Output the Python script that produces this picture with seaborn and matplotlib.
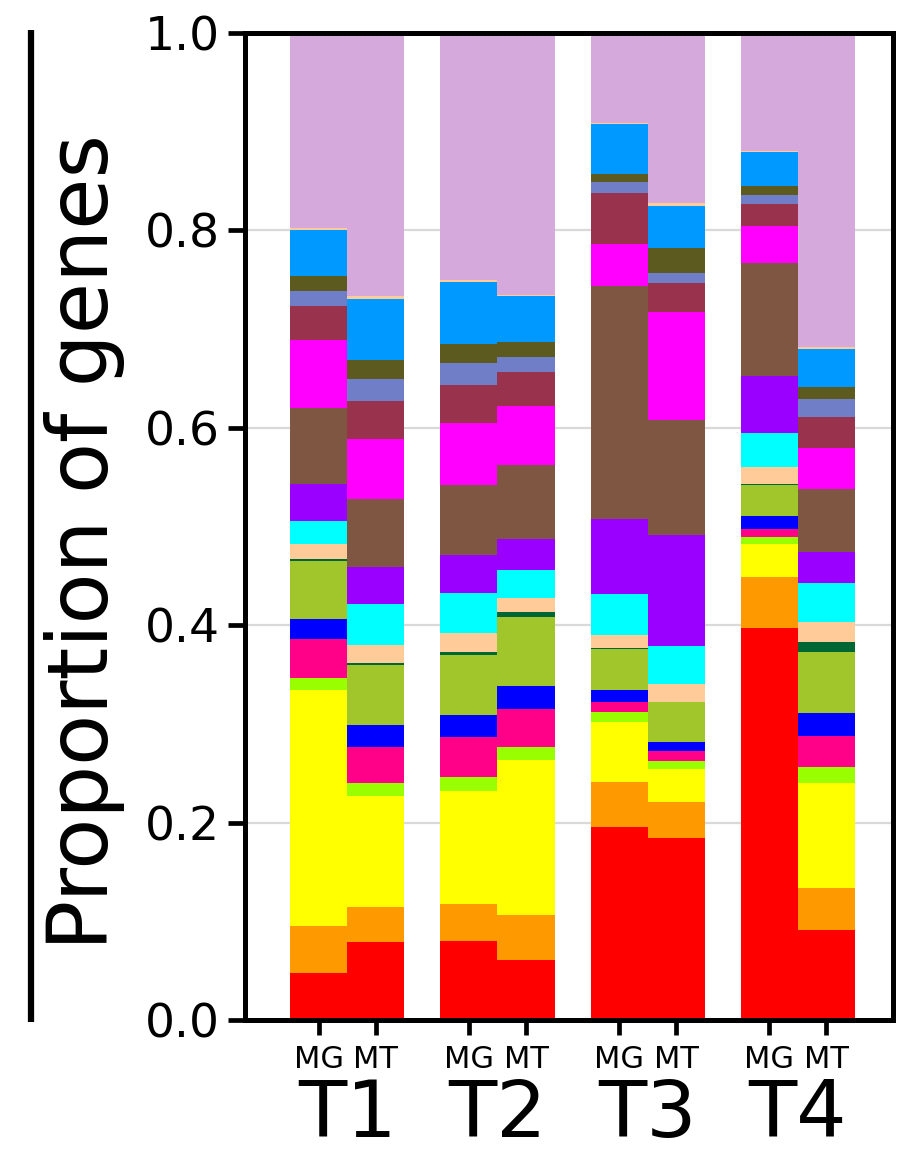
import matplotlib
matplotlib.use("Agg")
import matplotlib.pyplot as plt
from matplotlib.lines import Line2D
import matplotlib.transforms as mtransforms
import numpy as np
import pandas as pd
import seaborn as sns

groups = ["T1", "T2", "T3", "T4"]
types = ["MG", "MT"]

# bars in order T1 MG, T1 MT, T2 MG, T2 MT, T3 MG, T3 MT, T4 MG, T4 MT
# layers listed bottom to top
layer_names = ["red", "orange", "yellow", "lime", "pink", "blue", "yellowgreen",
               "darkgreen", "peach", "cyan", "purple", "brown", "magenta",
               "maroon", "slate", "olive", "azure", "peach2", "lilac"]
layer_colors = ["#FF0000", "#FF9900", "#FFFF00", "#99FF00", "#FF0088", "#0000FF",
                "#A1C62C", "#006633", "#FFCC99", "#00FFFF", "#9900FF", "#7F5641",
                "#FF00FF", "#99324D", "#707EC7", "#5C5A1E", "#0099FF", "#FFCC99",
                "#D5A9DC"]

red         = [0.048, 0.079, 0.080, 0.061, 0.196, 0.184, 0.397, 0.091]
orange      = [0.047, 0.035, 0.038, 0.045, 0.045, 0.037, 0.052, 0.043]
yellow      = [0.239, 0.113, 0.114, 0.157, 0.061, 0.033, 0.033, 0.106]
lime        = [0.012, 0.013, 0.014, 0.014, 0.010, 0.008, 0.007, 0.016]
pink        = [0.040, 0.037, 0.041, 0.038, 0.010, 0.011, 0.008, 0.032]
blue        = [0.020, 0.022, 0.022, 0.023, 0.012, 0.009, 0.014, 0.023]
yellowgreen = [0.059, 0.061, 0.061, 0.070, 0.042, 0.040, 0.031, 0.062]
darkgreen   = [0.002, 0.002, 0.003, 0.005, 0.001, 0.000, 0.001, 0.010]
peach       = [0.015, 0.018, 0.019, 0.015, 0.013, 0.018, 0.017, 0.020]
cyan        = [0.024, 0.041, 0.041, 0.028, 0.042, 0.039, 0.035, 0.040]
purple      = [0.037, 0.038, 0.038, 0.031, 0.076, 0.112, 0.057, 0.031]
brown       = [0.077, 0.069, 0.071, 0.075, 0.236, 0.117, 0.115, 0.064]
magenta     = [0.069, 0.061, 0.063, 0.060, 0.042, 0.109, 0.037, 0.042]
maroon      = [0.034, 0.038, 0.038, 0.034, 0.052, 0.030, 0.023, 0.031]
slate       = [0.016, 0.022, 0.023, 0.016, 0.011, 0.010, 0.009, 0.018]
olive       = [0.015, 0.020, 0.019, 0.015, 0.008, 0.025, 0.009, 0.012]
azure       = [0.046, 0.061, 0.063, 0.046, 0.051, 0.043, 0.034, 0.039]
peach2      = [0.002, 0.003, 0.002, 0.001, 0.001, 0.003, 0.001, 0.002]
lilac       = [0.198, 0.267, 0.250, 0.266, 0.091, 0.172, 0.120, 0.318]

layers = [red, orange, yellow, lime, pink, blue, yellowgreen, darkgreen, peach,
          cyan, purple, brown, magenta, maroon, slate, olive, azure, peach2, lilac]

tops = np.cumsum(np.array(layers), axis=0)
tops = tops / tops[-1]  # normalise so each bar reaches 1.0

bar_group = [g for g in groups for t in types]
bar_type = [t for g in groups for t in types]

sns.set_style("ticks")
plt.rcParams["font.family"] = ["DejaVu Sans"]
plt.rcParams["text.color"] = "black"
plt.rcParams["axes.labelcolor"] = "black"
plt.rcParams["xtick.color"] = "black"
plt.rcParams["ytick.color"] = "black"

fig = plt.figure(figsize=(9.19, 11.6), dpi=100)
ax = fig.add_axes([0.2666, 0.1207, 0.7051, 0.8509])

# draw cumulative bars from the top layer down so lower layers sit in front
for i in range(len(layers) - 1, -1, -1):
    df = pd.DataFrame({"group": bar_group, "type": bar_type, "top": tops[i]})
    sns.barplot(data=df, x="group", y="top", hue="type", order=groups,
                hue_order=types, palette=[layer_colors[i], layer_colors[i]],
                width=0.76, dodge=True, errorbar=None, saturation=1,
                linewidth=0, legend=False, ax=ax)

ax.set_ylim(0, 1)
ax.set_xlim(-0.68, 3.633)
ax.set_yticks(np.arange(0, 1.01, 0.2))
ax.set_yticklabels([f"{v:.1f}" for v in np.arange(0, 1.01, 0.2)], fontsize=34)
ax.yaxis.grid(True, color="#d9d9d9", linewidth=1.6)
ax.set_axisbelow(True)

pos = []
labs = []
for k in range(len(groups)):
    pos += [k - 0.19, k + 0.19]
    labs += types
ax.set_xticks(pos)
ax.set_xticklabels(labs, fontsize=22)
ax.set_xlabel("")
ax.tick_params(axis="x", length=11, width=3.4, pad=7)
ax.tick_params(axis="y", length=12, width=3.4, pad=6)

trans = mtransforms.blended_transform_factory(ax.transData, ax.transAxes)
for k, g in enumerate(groups):
    ax.text(k, -0.096, g, transform=trans, ha="center", va="center", fontsize=57)

ax.set_ylabel("Proportion of genes", fontsize=60)
ax.yaxis.set_label_coords(-0.247, 0.484)
ax.yaxis.label.set_va("center")

for s in ax.spines.values():
    s.set_linewidth(3.6)
    s.set_color("black")

fig.add_artist(Line2D([31 / 919, 31 / 919], [1 - 30 / 1160, 1 - 1022 / 1160],
                      color="black", linewidth=4.5, solid_capstyle="butt"))

fig.savefig("out.png", dpi=100)
